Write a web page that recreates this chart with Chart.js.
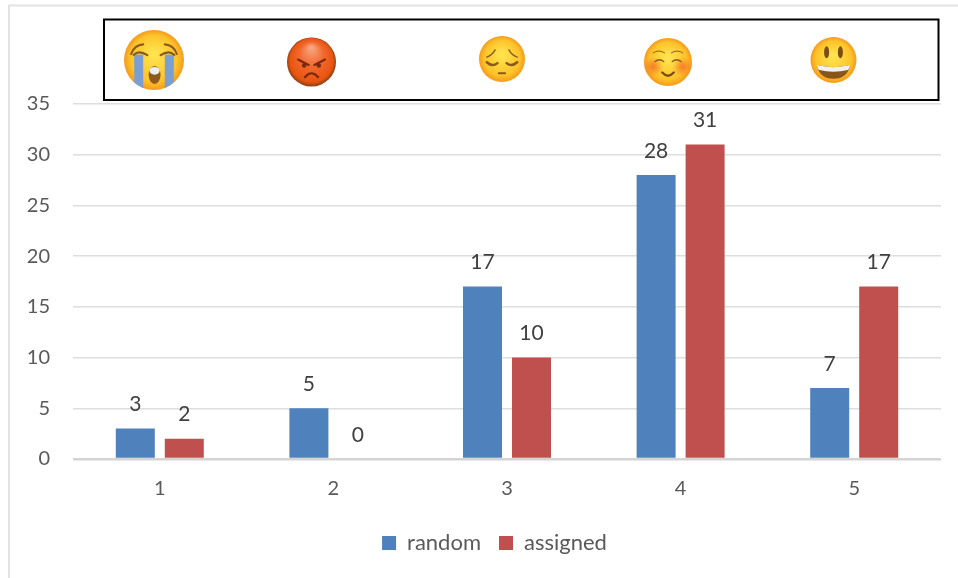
<!DOCTYPE html>
<html>
<head>
<meta charset="utf-8">
<title>chart</title>
<script src="https://cdn.jsdelivr.net/npm/chart.js@4"></script>
<style>
    html, body { margin: 0; padding: 0; background: #fff; overflow: hidden; }
    canvas { display: block; }
</style>
</head>
<body>
<canvas id="chartMain" width="958" height="578"></canvas>
<script>
const categories = ['1', '2', '3', '4', '5'];
const randomValues = [3, 5, 17, 28, 7];
const assignedValues = [2, 0, 10, 31, 17];
const yMax = 35;
const yStep = 5;

const fontName = 'Lato, "Open Sans", sans-serif';

function circleFill(ctx, x, y, r, color) {
    ctx.fillStyle = color;
    ctx.beginPath();
    ctx.arc(x, y, r, 0, Math.PI * 2);
    ctx.fill();
}

function stroke(ctx, color, width, draw) {
    ctx.strokeStyle = color;
    ctx.lineWidth = width;
    ctx.lineCap = 'round';
    ctx.beginPath();
    draw();
    ctx.stroke();
}

// yellow base used by four of the faces
function yellowFace(ctx) {
    const g = ctx.createRadialGradient(0, -0.2, 0.1, 0, 0, 1);
    g.addColorStop(0, '#ffe24d');
    g.addColorStop(0.75, '#fdc32a');
    g.addColorStop(1, '#f59a1c');
    circleFill(ctx, 0, 0, 1, g);
}

function cryingFace(ctx) {
    yellowFace(ctx);
    ctx.save();
    ctx.beginPath();
    ctx.arc(0, 0, 1, 0, Math.PI * 2);
    ctx.clip();
    ctx.fillStyle = '#7a9fd4';
    ctx.fillRect(-0.66, -0.18, 0.3, 1.2);
    ctx.fillRect(0.36, -0.18, 0.3, 1.2);
    ctx.restore();
    stroke(ctx, '#8a5a1c', 0.07, () => {
        ctx.moveTo(-0.76, -0.2); ctx.quadraticCurveTo(-0.66, -0.5, -0.36, -0.52);
        ctx.moveTo(0.76, -0.2); ctx.quadraticCurveTo(0.66, -0.5, 0.36, -0.52);
        ctx.moveTo(-0.68, -0.17); ctx.quadraticCurveTo(-0.5, -0.34, -0.22, -0.16);
        ctx.moveTo(0.68, -0.17); ctx.quadraticCurveTo(0.5, -0.34, 0.22, -0.16);
    });
    ctx.fillStyle = '#8f5a1e';
    ctx.beginPath();
    ctx.ellipse(0.02, 0.5, 0.2, 0.3, 0, 0, Math.PI * 2);
    ctx.fill();
    ctx.fillStyle = '#eeeeee';
    ctx.beginPath();
    ctx.ellipse(0.02, 0.36, 0.17, 0.13, 0, 0, Math.PI * 2);
    ctx.fill();
}

function angryFace(ctx) {
    const g = ctx.createRadialGradient(0, -0.6, 0.05, 0, 0, 1);
    g.addColorStop(0, '#f7a582');
    g.addColorStop(0.45, '#f26a30');
    g.addColorStop(0.88, '#e8540f');
    g.addColorStop(1, '#8a4018');
    circleFill(ctx, 0, 0, 1, g);
    stroke(ctx, '#7a2a0c', 0.09, () => {
        ctx.moveTo(-0.55, -0.1); ctx.lineTo(-0.12, 0.12);
        ctx.moveTo(0.55, -0.1); ctx.lineTo(0.12, 0.12);
    });
    circleFill(ctx, -0.3, 0.14, 0.09, '#7a2a0c');
    circleFill(ctx, 0.3, 0.14, 0.09, '#7a2a0c');
    stroke(ctx, '#7a2a0c', 0.09, () => {
        ctx.moveTo(-0.27, 0.62); ctx.quadraticCurveTo(0, 0.3, 0.27, 0.62);
    });
}

function pensiveFace(ctx) {
    yellowFace(ctx);
    stroke(ctx, '#8a5a1c', 0.06, () => {
        ctx.moveTo(-0.66, -0.08); ctx.quadraticCurveTo(-0.42, -0.18, -0.3, -0.4);
        ctx.moveTo(0.66, -0.08); ctx.quadraticCurveTo(0.42, -0.18, 0.3, -0.4);
    });
    stroke(ctx, '#8a5a1c', 0.11, () => {
        ctx.moveTo(-0.66, 0.14); ctx.quadraticCurveTo(-0.42, 0.36, -0.2, 0.18);
        ctx.moveTo(0.66, 0.14); ctx.quadraticCurveTo(0.42, 0.36, 0.2, 0.18);
    });
    stroke(ctx, '#8a5a1c', 0.08, () => {
        ctx.moveTo(-0.14, 0.62); ctx.lineTo(0.14, 0.62);
    });
}

function relaxedFace(ctx) {
    yellowFace(ctx);
    const blush = (x) => {
        const b = ctx.createRadialGradient(x, 0.2, 0.02, x, 0.2, 0.42);
        b.addColorStop(0, 'rgba(245,110,40,0.8)');
        b.addColorStop(1, 'rgba(245,110,40,0)');
        circleFill(ctx, x, 0.2, 0.42, b);
    };
    blush(-0.62);
    blush(0.62);
    stroke(ctx, '#8a5a1c', 0.04, () => {
        ctx.moveTo(-0.62, -0.38); ctx.quadraticCurveTo(-0.38, -0.54, -0.14, -0.38);
        ctx.moveTo(0.62, -0.38); ctx.quadraticCurveTo(0.38, -0.54, 0.14, -0.38);
    });
    stroke(ctx, '#8a5a1c', 0.06, () => {
        ctx.moveTo(-0.54, -0.02); ctx.quadraticCurveTo(-0.36, -0.16, -0.18, -0.02);
        ctx.moveTo(0.54, -0.02); ctx.quadraticCurveTo(0.36, -0.16, 0.18, -0.02);
    });
    stroke(ctx, '#7a4e14', 0.1, () => {
        ctx.moveTo(-0.24, 0.44); ctx.quadraticCurveTo(0, 0.7, 0.24, 0.44);
    });
}

function smileFace(ctx) {
    yellowFace(ctx);
    ctx.fillStyle = '#7a4e14';
    ctx.beginPath();
    ctx.ellipse(-0.3, -0.34, 0.11, 0.26, 0, 0, Math.PI * 2);
    ctx.ellipse(0.3, -0.34, 0.11, 0.26, 0, 0, Math.PI * 2);
    ctx.fill();
    ctx.beginPath();
    ctx.moveTo(-0.72, 0.22);
    ctx.quadraticCurveTo(0, 0.4, 0.72, 0.22);
    ctx.quadraticCurveTo(0.62, 0.82, 0, 0.82);
    ctx.quadraticCurveTo(-0.62, 0.82, -0.72, 0.22);
    ctx.fillStyle = '#8a5518';
    ctx.fill();
    ctx.beginPath();
    ctx.moveTo(-0.72, 0.22);
    ctx.quadraticCurveTo(0, 0.4, 0.72, 0.22);
    ctx.quadraticCurveTo(0.68, 0.42, 0.62, 0.44);
    ctx.quadraticCurveTo(0, 0.58, -0.62, 0.44);
    ctx.quadraticCurveTo(-0.68, 0.42, -0.72, 0.22);
    ctx.fillStyle = '#f1f1f1';
    ctx.fill();
}

const faces = [
    { draw: cryingFace, x: 154, y: 60, r: 30 },
    { draw: angryFace, x: 311.5, y: 62, r: 24.5 },
    { draw: pensiveFace, x: 502, y: 59, r: 23 },
    { draw: relaxedFace, x: 668, y: 62, r: 24 },
    { draw: smileFace, x: 833.5, y: 60, r: 23 }
];

// page frame, emoji strip and value labels
const decorations = {
    id: 'decorations',
    beforeDraw(chart) {
        const ctx = chart.ctx;
        ctx.save();
        ctx.fillStyle = '#ffffff';
        ctx.fillRect(0, 0, chart.width, chart.height);
        ctx.strokeStyle = '#e2e2e2';
        ctx.lineWidth = 2;
        ctx.beginPath();
        ctx.moveTo(9, 578);
        ctx.lineTo(9, 5.5);
        ctx.lineTo(958, 5.5);
        ctx.stroke();
        ctx.restore();
    },
    // legend sits centred under the plot, not under the whole canvas
    afterLayout(chart) {
        chart.legend.left = 48;
    },
    afterDraw(chart) {
        const ctx = chart.ctx;
        ctx.save();
        ctx.strokeStyle = '#000000';
        ctx.lineWidth = 2;
        ctx.strokeRect(104, 19.5, 834.5, 80.5);
        faces.forEach(f => {
            ctx.save();
            ctx.translate(f.x, f.y);
            ctx.scale(f.r, f.r);
            f.draw(ctx);
            ctx.restore();
        });
        ctx.font = '21px ' + fontName;
        ctx.fillStyle = '#404040';
        ctx.textAlign = 'center';
        ctx.textBaseline = 'middle';
        chart.data.datasets.forEach((ds, i) => {
            chart.getDatasetMeta(i).data.forEach((bar, j) => {
                ctx.fillText(String(ds.data[j]), bar.x, bar.y - 24);
            });
        });
        ctx.restore();
    }
};

new Chart(document.getElementById('chartMain'), {
    type: 'bar',
    data: {
        labels: categories,
        datasets: [
            { label: 'random', data: randomValues, backgroundColor: '#4F81BD', categoryPercentage: 0.5645, barPercentage: 0.796 },
            { label: 'assigned', data: assignedValues, backgroundColor: '#C0504D', categoryPercentage: 0.5645, barPercentage: 0.796 }
        ]
    },
    plugins: [decorations],
    options: {
        responsive: false,
        animation: false,
        layout: { padding: { left: 0, right: 17, top: 104, bottom: 14 } },
        plugins: {
            tooltip: { enabled: false },
            legend: {
                position: 'bottom',
                labels: {
                    color: '#595959',
                    font: { family: fontName, size: 22 },
                    boxWidth: 14,
                    boxHeight: 14,
                    padding: 18
                }
            }
        },
        scales: {
            x: {
                grid: { display: false },
                border: { display: false },
                ticks: { color: '#595959', font: { family: fontName, size: 20 }, padding: 10 },
                afterFit(scale) { scale.height = 55; }
            },
            y: {
                min: 0,
                max: yMax,
                border: { display: false },
                grid: {
                    drawTicks: false,
                    color: ctx => ctx.tick.value === 0 ? '#d4d4d4' : '#dedede',
                    lineWidth: ctx => ctx.tick.value === 0 ? 2.5 : 1.5
                },
                ticks: { stepSize: yStep, color: '#595959', font: { family: fontName, size: 20 }, padding: 23 },
                afterFit(scale) { scale.width = 73; }
            }
        }
    }
});
</script>
</body>
</html>
